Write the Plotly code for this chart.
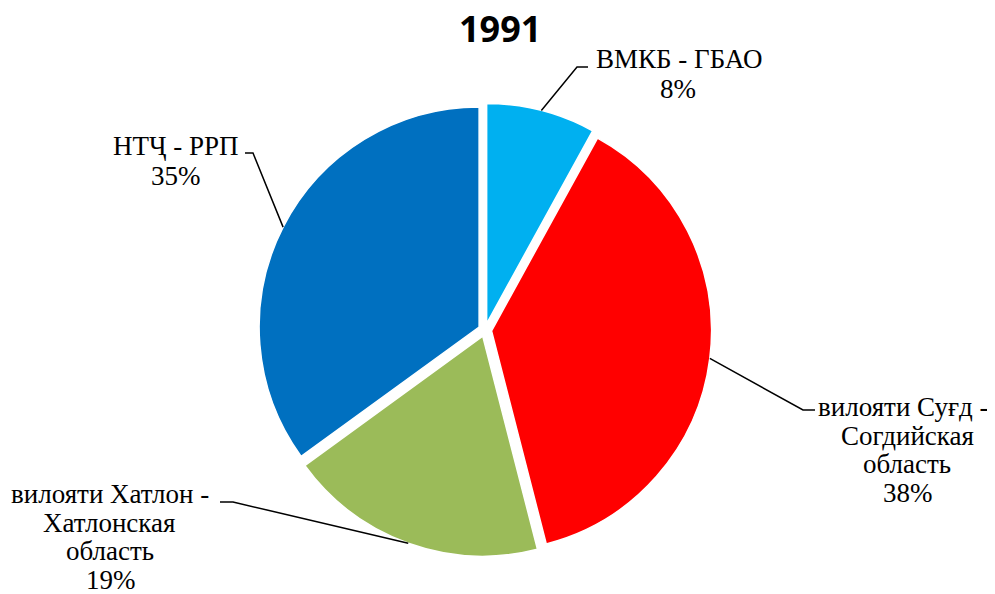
import math
import plotly.graph_objects as go

# ---- data ----
labels = ["ВМКБ - ГБАО", "вилояти Суғд - Согдийская область",
          "вилояти Хатлон - Хатлонская область", "НТҶ - РРП"]
values = [8, 38, 19, 35]
colors = ["#00B0F0", "#FF0000", "#9BBB59", "#0070C0"]
label_lines = [
    ["ВМКБ - ГБАО", "8%"],
    ["вилояти Суғд -", "Согдийская", "область", "38%"],
    ["вилояти Хатлон -", "Хатлонская", "область", "19%"],
    ["НТҶ - РРП", "35%"],
]
title_text = "1991"

# page body has an 8px margin; figure starts at (8, 8) on screen
OFF = 8
FW, FH = 995 - OFF, 594 - OFF
CX, CY = 485, 330          # pie centre in screen px
R0 = 220                   # un-pulled radius in px
PULL = 0.03
RT = R0 * (1 + PULL)
SERIF = "Liberation Serif"

def px(x):
    return (x - OFF) / FW

def py(y):
    return 1 - (y - OFF) / FH

fig = go.Figure(go.Pie(
    labels=labels, values=values, sort=False, direction="clockwise",
    rotation=0, pull=PULL, textinfo="none", showlegend=False,
    marker=dict(colors=colors, line=dict(color="white", width=1.5)),
    domain=dict(x=[px(CX - RT), px(CX + RT)], y=[py(CY + RT), py(CY - RT)]),
))

# label layout: (line x centres, first line y, line step, elbow, end)
label_layout = [
    dict(xs=[679, 678], y0=59, dy=30, elbow=(577, 67), end=(588, 67)),
    dict(xs=[903, 907, 907, 908], y0=407, dy=28.5, elbow=(803, 410), end=(815, 410)),
    dict(xs=[110, 109, 110, 111], y0=494, dy=28.5, elbow=(233, 502), end=(220, 502)),
    dict(xs=[176, 176], y0=146, dy=30, elbow=(253, 153), end=(245, 153)),
]

total = sum(values)
cum = 0
annotations = []
shapes = []
for i, v in enumerate(values):
    mid = 2 * math.pi * (cum + v / 2) / total
    cum += v
    sx = CX + RT * math.sin(mid)
    sy = CY - RT * math.cos(mid)
    lay = label_layout[i]
    ex, ey = lay["elbow"]
    fx, fy = lay["end"]
    shapes.append(dict(
        type="path", xref="paper", yref="paper",
        path=f"M {px(sx)},{py(sy)} L {px(ex)},{py(ey)} L {px(fx)},{py(fy)}",
        line=dict(color="black", width=1.5)))
    for j, t in enumerate(label_lines[i]):
        annotations.append(dict(
            text=t, x=px(lay["xs"][j]), y=py(lay["y0"] + j * lay["dy"]),
            xref="paper", yref="paper", xanchor="center", yanchor="middle",
            showarrow=False,
            font=dict(family=SERIF, size=27, color="#000000")))

annotations.append(dict(
    text=f"<b>{title_text}</b>", x=px(500), y=py(29), xref="paper", yref="paper",
    xanchor="center", yanchor="middle", showarrow=False,
    font=dict(family="Open Sans", size=36, color="#000000")))

fig.update_layout(
    width=FW, height=FH, margin=dict(l=0, r=0, t=0, b=0),
    paper_bgcolor="white", plot_bgcolor="white",
    annotations=annotations, shapes=shapes,
)

fig.write_html("out.html")
